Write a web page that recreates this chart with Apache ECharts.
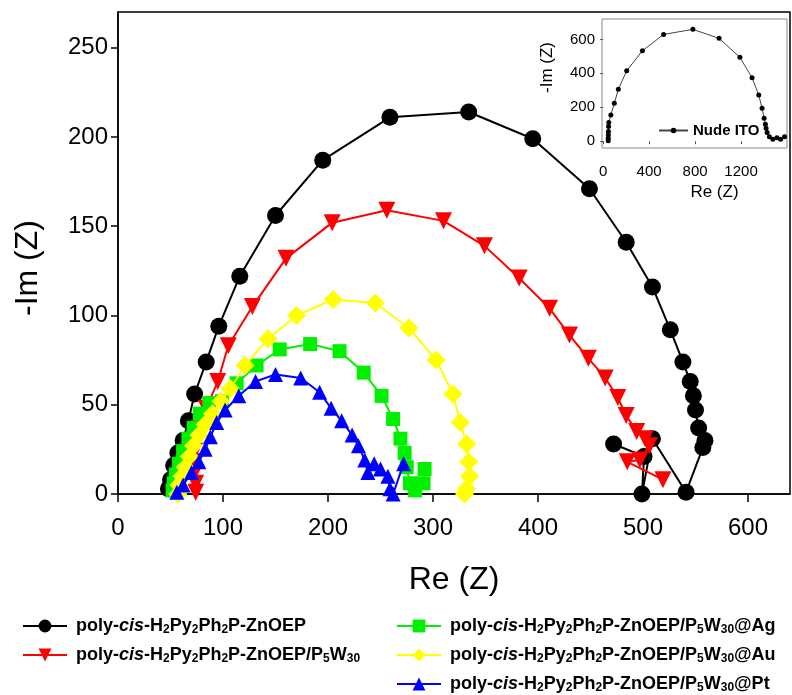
<!DOCTYPE html>
<html><head><meta charset="utf-8">
<script src="https://cdn.jsdelivr.net/npm/echarts@6/dist/echarts.min.js"></script>
<style>html,body{margin:0;padding:0;background:#fff}#c{width:792px;height:695px}</style>
</head><body><div id="c"></div>
<script>
// Main Nyquist data (Re, -Im)
const blackRe = [48, 50, 53, 57, 62, 67, 73, 84, 96, 116, 150, 195, 259, 334, 395, 449, 484, 509, 526, 538, 545, 548, 550, 553, 559, 557, 541, 509, 499, 501, 472];
const blackIm = [3, 8, 16, 23, 30, 41, 56, 74, 94, 122, 156, 187, 211, 214, 199, 171, 141, 116, 92, 74, 63, 55, 47, 37, 30, 26, 1, 31, 0, 21, 28];
const redRe = [74, 74, 73, 73, 73, 74, 77, 84, 95, 105, 128, 160, 204, 256, 310, 349, 382, 411, 430, 448, 464, 476, 484, 494, 502, 506, 497, 485, 519];
const redIm = [1, 6, 12, 18, 24, 30, 37, 48, 63, 83, 105, 132, 152, 159, 153, 139, 121, 104, 89, 76, 65, 54, 44, 35, 31, 27, 19, 18, 8];
const greenRe = [52, 53, 55, 58, 62, 67, 72, 78, 87, 99, 113, 132, 154, 183, 211, 234, 251, 262, 269, 273, 275, 278, 283, 291, 292];
const greenIm = [2, 6, 11, 17, 24, 31, 37, 45, 51, 52, 62, 72, 81, 84, 80, 68, 55, 42, 31, 23, 15, 6, 2, 6, 14];
const yellowRe = [57, 58, 61, 64, 68, 72, 77, 83, 90, 98, 107, 121, 143, 170, 205, 245, 277, 303, 319, 326, 332, 334, 335, 332, 330];
const yellowIm = [0, 5, 10, 15, 21, 27, 33, 39, 45, 52, 59, 72, 87, 100, 109, 107, 93, 75, 56, 40, 28, 18, 10, 3, 0];
const blueRe = [56, 62, 70, 77, 83, 88, 94, 102, 115, 131, 150, 174, 192, 203, 213, 223, 229, 235, 238, 244, 250, 257, 259, 262, 272];
const blueIm = [1, 5, 12, 18, 25, 32, 40, 47, 55, 63, 67, 65, 57, 48, 41, 33, 27, 19, 12, 17, 14, 10, 3, 0, 17];
// Inset (Nude ITO)
const itoRe = [44, 44, 45, 46, 47, 49, 67, 97, 132, 205, 342, 526, 781, 1009, 1190, 1296, 1354, 1383, 1401, 1412, 1418, 1427, 1447, 1477, 1512, 1544, 1579];
const itoIm = [2, 18, 37, 57, 86, 110, 155, 223, 306, 415, 533, 629, 659, 606, 494, 374, 272, 194, 135, 100, 76, 51, 27, 11, 21, 11, 27];
// Tick labels
const mainXTicks = [0, 100, 200, 300, 400, 500, 600];
const mainYTicks = [0, 50, 100, 150, 200, 250];
const insetXTicks = [0, 400, 800, 1200];
const insetYTicks = [0, 200, 400, 600];
// Series names
const names = [
  'poly-cis-H2Py2Ph2P-ZnOEP',
  'poly-cis-H2Py2Ph2P-ZnOEP/P5W30',
  'poly-cis-H2Py2Ph2P-ZnOEP/P5W30@Ag',
  'poly-cis-H2Py2Ph2P-ZnOEP/P5W30@Au',
  'poly-cis-H2Py2Ph2P-ZnOEP/P5W30@Pt'
];
const suffix = ['', '/P{s|5}W{s|30}', '/P{s|5}W{s|30}@Ag', '/P{s|5}W{s|30}@Au', '/P{s|5}W{s|30}@Pt'];

const zip = (a, b) => a.map((v, i) => [v, b[i]]);
const FONT = 'Liberation Sans, Arial, sans-serif';

function fmt(name) {
  const i = names.indexOf(name);
  const base = '{b|poly-}{i|cis}{b|-H}{s|2}{b|Py}{s|2}{b|Ph}{s|2}{b|P-ZnOEP}';
  const parts = suffix[i].split(/(\{s\|[^}]*\})/).filter(p => p.length).map(p => p.startsWith('{s|') ? p : '{b|' + p + '}');
  return base + parts.join('');
}

const rich = {
  b: {fontFamily: FONT, fontWeight: 'bold', fontSize: 18, lineHeight: 20, color: '#000'},
  i: {fontFamily: FONT, fontWeight: 'bold', fontStyle: 'italic', fontSize: 18, lineHeight: 20, color: '#000'},
  s: {fontFamily: FONT, fontWeight: 'bold', fontSize: 12, lineHeight: 8, verticalAlign: 'bottom', color: '#000'}
};

const styles = [
  {color: '#000000', symbol: 'circle', size: 17, rot: 0},
  {color: '#ff0000', symbol: 'triangle', size: 17, rot: 180},
  {color: '#00f000', symbol: 'rect', size: 14, rot: 0},
  {color: '#ffff00', symbol: 'diamond', size: 19, rot: 0},
  {color: '#0000ff', symbol: 'triangle', size: 15, rot: 0}
];
const datas = [zip(blackRe, blackIm), zip(redRe, redIm), zip(greenRe, greenIm), zip(yellowRe, yellowIm), zip(blueRe, blueIm)];

const series = datas.map((d, k) => ({
  name: names[k], type: 'line', xAxisIndex: 0, yAxisIndex: 0, data: d,
  symbol: styles[k].symbol, symbolSize: styles[k].size, symbolRotate: styles[k].rot,
  showAllSymbol: true, clip: false, animation: false, z: 2 + k,
  lineStyle: {color: styles[k].color, width: 2},
  itemStyle: {color: styles[k].color, borderWidth: 0}
}));
series.push({
  name: 'Nude ITO', type: 'line', xAxisIndex: 1, yAxisIndex: 1, data: zip(itoRe, itoIm),
  symbol: 'circle', symbolSize: 5, showAllSymbol: true, animation: false, z: 10,
  lineStyle: {color: '#444', width: 1}, itemStyle: {color: '#000'}
});

const axisLbl = (size) => ({color: '#000', fontFamily: FONT, fontSize: size, formatter: (v) => String(v)});

const option = {
  backgroundColor: '#fff',
  animation: false,
  grid: [
    {left: 118, right: 2, top: 12, bottom: 201, show: true, borderColor: '#000', borderWidth: 1.5, backgroundColor: 'transparent'},
    {left: 602, right: 5, top: 19, height: 129, show: true, borderColor: '#888', borderWidth: 1, backgroundColor: '#fff', z: 5}
  ],
  xAxis: [
    {gridIndex: 0, type: 'value', min: 0, max: 640,
     name: 'Re (Z)', nameLocation: 'middle', nameGap: 70,
     nameTextStyle: {fontFamily: FONT, fontSize: 32, color: '#000'},
     axisLine: {show: true, lineStyle: {color: '#000', width: 1.5}},
     axisTick: {show: true, inside: false, length: 8, customValues: mainXTicks, lineStyle: {color: '#000', width: 1.5}},
     axisLabel: Object.assign(axisLbl(24), {margin: 22, customValues: mainXTicks}),
     splitLine: {show: false}},
    {gridIndex: 1, type: 'value', min: -10, max: 1600,
     name: 'Re (Z)', nameLocation: 'middle', nameGap: 36,
     nameTextStyle: {fontFamily: FONT, fontSize: 17, color: '#000', padding: [0, 0, 0, 40]},
     axisLine: {show: false},
     axisTick: {show: true, length: 3, customValues: insetXTicks, lineStyle: {color: '#555', width: 1}},
     axisLabel: Object.assign(axisLbl(15), {margin: 16, customValues: insetXTicks}),
     splitLine: {show: false}, z: 6}
  ],
  yAxis: [
    {gridIndex: 0, type: 'value', min: 0, max: 270,
     name: '-Im (Z)', nameLocation: 'middle', nameGap: 74,
     nameTextStyle: {fontFamily: FONT, fontSize: 32, color: '#000', padding: [0, 30, 0, 0]},
     axisLine: {show: true, lineStyle: {color: '#000', width: 1.5}},
     axisTick: {show: true, inside: false, length: 7, customValues: mainYTicks, lineStyle: {color: '#000', width: 1.5}},
     axisLabel: Object.assign(axisLbl(24), {margin: 10, customValues: mainYTicks}),
     splitLine: {show: false}},
    {gridIndex: 1, type: 'value', min: -40, max: 720,
     name: '-Im (Z)', nameLocation: 'middle', nameGap: 46,
     nameTextStyle: {fontFamily: FONT, fontSize: 17, color: '#000', padding: [0, 0, 0, 32]},
     axisLine: {show: false},
     axisTick: {show: true, length: 3, customValues: insetYTicks, lineStyle: {color: '#555', width: 1}},
     axisLabel: Object.assign(axisLbl(15), {margin: 7, customValues: insetYTicks}),
     splitLine: {show: false}, z: 6}
  ],
  legend: [
    {data: [names[0], names[1]], orient: 'vertical', left: 17, top: 612, height: 100, itemWidth: 44, itemHeight: 16, itemGap: 10,
     formatter: fmt, textStyle: {rich: rich, padding: [0, 0, 0, 4]}, selectedMode: false},
    {data: [names[2], names[3], names[4]], orient: 'vertical', left: 391, top: 612, height: 100, itemWidth: 44, itemHeight: 16, itemGap: 10,
     formatter: fmt, textStyle: {rich: rich, padding: [0, 0, 0, 4]}, selectedMode: false},
    {data: ['Nude ITO'], orient: 'horizontal', left: 653, top: 118, itemWidth: 29, itemHeight: 7, z: 20,
     textStyle: {fontFamily: FONT, fontWeight: 'bold', fontSize: 15, color: '#000'}, selectedMode: false}
  ],
  series: series
};

const chart = echarts.init(document.getElementById('c'), null, {renderer: 'canvas'});
chart.setOption(option);
</script>
</body></html>
